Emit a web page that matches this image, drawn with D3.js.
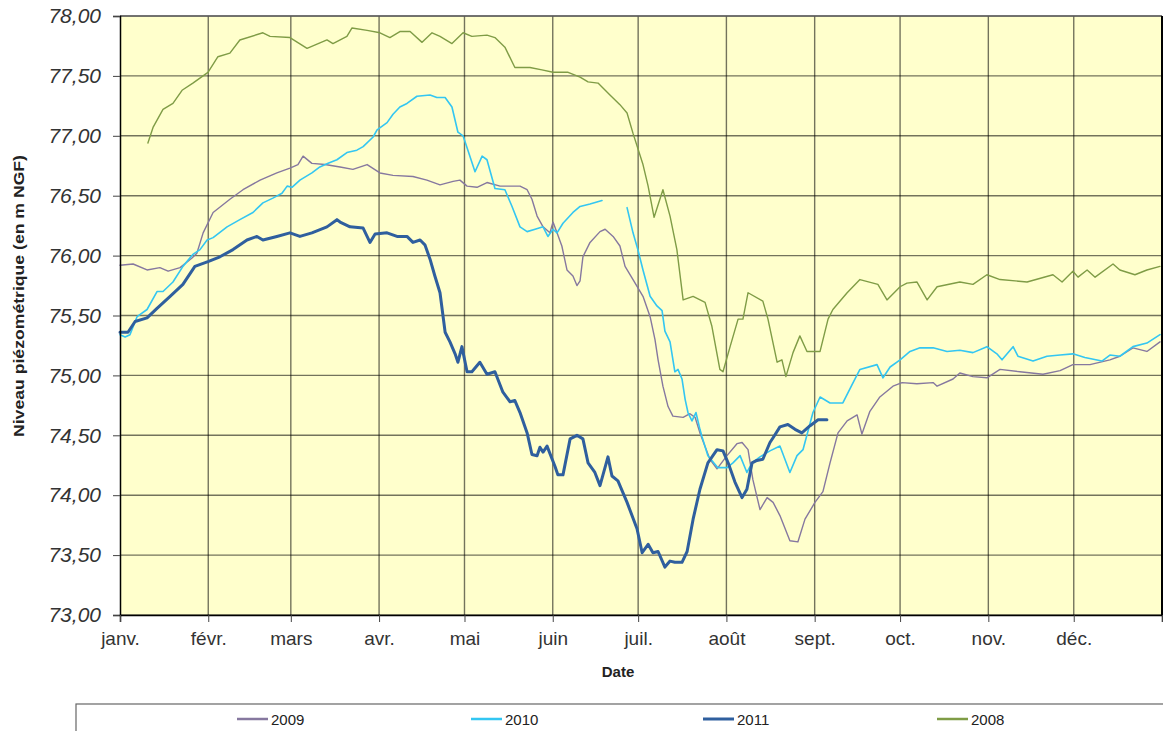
<!DOCTYPE html>
<html>
<head>
<meta charset="utf-8">
<script src="https://cdn.jsdelivr.net/npm/d3@7"></script>
<style>
  body { margin:0; background:#fff; }
  svg { font-family: Arial, "Liberation Sans", sans-serif; }
</style>
</head>
<body>
<div id="chart"></div>
<script>
// months shown on the x axis
var monthLabels = ["janv.","févr.","mars","avr.","mai","juin","juil.","août","sept.","oct.","nov.","déc."];
var yTicks = [73,73.5,74,74.5,75,75.5,76,76.5,77,77.5,78];

// day of year (from 1 jan) and level (m NGF)
var days2009 = [0,4.6,9.5,14,16.9,21.1,25.3,27,29.2,32.7,38.6,43.2,49.2,55.1,59.7,62.5,64.3,67.4,72,77.3,81.8,86.8,91.3,95.9,102.9,107.8,112.4,117,119.4,121.9,125.4,128.9,133.5,140.5,143,144.7,146.5,148.6,151,152.1,153.5,155.2,157,159.1,160.5,161.6,162.6,165.1,168.6,170.4,173.2,175.6,177.4,180.2,183.7,186.2,187.9,189,190.7,192.5,194.2,197.8,200.2,202,203.7,207.2,209.7,213.2,216.7,218.5,220.6,222.3,224.8,227.3,229.4,231.8,235.3,238.1,240.6,244.1,246.9,249.4,252.2,255.4,258.9,260.6,263.4,266.9,271.5,274.7,279.9,285.6,287,292.6,295,299.6,304.5,309.1,316.1,324.2,330.2,334.7,340.7,347.7,351.2,355.8,360.7,365.3];
var vals2009 = [75.92,75.93,75.88,75.90,75.87,75.90,75.98,76.02,76.19,76.36,76.47,76.55,76.63,76.69,76.73,76.76,76.83,76.77,76.76,76.74,76.72,76.76,76.69,76.67,76.66,76.63,76.59,76.62,76.63,76.58,76.57,76.61,76.58,76.58,76.55,76.47,76.33,76.24,76.19,76.28,76.19,76.08,75.88,75.83,75.75,75.79,75.99,76.11,76.20,76.22,76.16,76.08,75.91,75.80,75.66,75.49,75.30,75.13,74.91,74.74,74.66,74.65,74.68,74.65,74.52,74.30,74.22,74.33,74.43,74.44,74.38,74.13,73.88,73.98,73.94,73.83,73.62,73.61,73.80,73.94,74.03,74.27,74.52,74.62,74.67,74.51,74.70,74.82,74.91,74.94,74.93,74.94,74.91,74.97,75.02,74.99,74.98,75.05,75.03,75.01,75.04,75.09,75.09,75.13,75.16,75.23,75.20,75.28];

// null = no measure (gap in june)
var days2010 = [0,1.8,3.5,6,9.5,13,15.1,18.6,22.1,25.6,28.1,30.6,32.7,37.6,42.1,46.7,50.2,53.7,56.9,58.7,60.4,63.2,67.4,70.2,73.1,76.2,79.7,83.2,85.4,88.9,90.3,93.8,95.9,98.3,100.8,104.3,108.9,111.3,114.2,116.6,118.7,120.5,122.2,124.7,127.2,128.9,131.7,135.2,137.7,140.5,143,145.8,148.6,150.3,152.1,153.5,155.6,159.1,161.6,165.1,169.3,174,178.1,180.2,181.9,183.7,186.2,188.6,190.4,191.4,193.2,194.9,196,197.4,198.5,199.5,200.9,202.3,203.7,204.4,206.5,210,213.2,215.3,217.8,220.2,222,224.8,228.3,231.8,235.3,237.8,239.9,243.4,245.9,249.4,253.9,257.5,259.9,265.9,268,270.5,274,277.5,281,285.6,290.5,295,299.6,304.5,308,309.8,313.7,315.4,320.7,325.6,330.2,334.7,338.9,344.9,347.7,351.2,355.8,360.7,365.3];
var vals2010 = [75.34,75.32,75.34,75.49,75.55,75.70,75.70,75.78,75.91,76.01,76.05,76.13,76.15,76.24,76.30,76.36,76.44,76.48,76.52,76.58,76.57,76.63,76.69,76.74,76.77,76.80,76.86,76.88,76.91,76.99,77.05,77.11,77.18,77.24,77.27,77.33,77.34,77.32,77.32,77.24,77.03,77.00,76.88,76.70,76.83,76.80,76.56,76.55,76.41,76.24,76.20,76.22,76.24,76.16,76.22,76.19,76.27,76.36,76.41,76.43,76.46,null,76.40,76.19,76.05,75.88,75.66,75.58,75.54,75.37,75.28,75.03,75.05,74.97,74.80,74.69,74.62,74.69,74.55,74.49,74.33,74.23,74.23,74.27,74.33,74.19,74.27,74.32,74.37,74.41,74.19,74.33,74.38,74.69,74.82,74.77,74.77,74.94,75.05,75.09,74.98,75.07,75.13,75.20,75.23,75.23,75.20,75.21,75.19,75.24,75.18,75.13,75.24,75.16,75.12,75.16,75.17,75.18,75.15,75.12,75.17,75.16,75.24,75.27,75.34];

var days2011 = [0,2.8,5.3,9.5,13,17.6,22.1,26.3,30.9,35.1,39.7,44.6,48.1,50.2,55.1,59.7,63.2,67.4,72.7,76.2,77.3,80.8,85.4,87.8,89.6,93.8,97.3,100.8,102.9,105.4,107.1,108.9,110.6,112.4,114.2,115.9,117.7,118.7,120.1,121.9,123.6,126.4,128.9,131.7,134.5,137,138.7,140.5,143,144.7,146.5,147.5,148.6,150,152.8,153.8,155.6,158.1,160.5,162.6,164.4,166.8,168.6,171.4,172.8,174.9,178.1,181.6,183.4,185.5,187.2,189,191.4,193.2,194.9,197.4,199.2,201.3,203.7,206.5,209.7,211.8,213.6,216,218.5,220.2,222,223.7,225.8,228.3,229.4,231.8,234.6,237.1,239.5,242.4,245.2,248.3];
var vals2011 = [75.36,75.36,75.45,75.48,75.56,75.66,75.76,75.91,75.95,75.99,76.05,76.13,76.16,76.13,76.16,76.19,76.16,76.19,76.24,76.30,76.28,76.24,76.23,76.11,76.18,76.19,76.16,76.16,76.11,76.13,76.09,75.97,75.83,75.69,75.36,75.28,75.18,75.11,75.24,75.03,75.03,75.11,75.01,75.03,74.86,74.78,74.79,74.69,74.52,74.34,74.33,74.40,74.36,74.41,74.24,74.17,74.17,74.47,74.50,74.47,74.27,74.19,74.08,74.32,74.16,74.12,73.94,73.72,73.52,73.59,73.52,73.53,73.40,73.45,73.44,73.44,73.53,73.80,74.05,74.27,74.38,74.37,74.27,74.11,73.98,74.05,74.27,74.29,74.30,74.44,74.48,74.57,74.59,74.55,74.52,74.58,74.63,74.63];

var days2008 = [9.8,11.6,15.1,18.6,21.8,25.6,30.9,34.4,38.6,42.1,50.2,52.7,59.7,65.7,72.7,74.8,79.7,81.5,86.8,91.3,94.8,98.3,101.9,106.1,109.6,112.4,116.6,120.5,123.6,128.9,131.7,135.2,138.7,144,148.2,152.1,157.4,161.6,164.4,167.9,172.1,175.6,178.1,180.2,183.7,185.5,187.6,190.7,193.2,195.6,197.8,201.3,205.5,207.9,210.7,211.8,214.3,217.1,218.8,220.6,225.8,227.6,230.8,232.5,233.9,236.4,238.8,241.3,245.9,248.7,250.4,255.4,259.9,266.2,269.4,274,276.4,279.9,283.5,287,295,299.6,304.5,309.1,318.6,327.7,330.9,334.7,336.5,339.7,342.5,348.8,351.2,356.5,360.7,365.3];
var vals2008 = [76.94,77.07,77.22,77.27,77.38,77.44,77.53,77.66,77.69,77.80,77.86,77.83,77.82,77.73,77.80,77.77,77.83,77.90,77.88,77.86,77.82,77.87,77.87,77.78,77.86,77.83,77.77,77.86,77.83,77.84,77.82,77.74,77.57,77.57,77.55,77.53,77.53,77.49,77.45,77.44,77.34,77.26,77.19,77.02,76.76,76.58,76.32,76.55,76.33,76.05,75.63,75.66,75.61,75.41,75.05,75.03,75.24,75.47,75.47,75.69,75.62,75.47,75.11,75.13,74.99,75.19,75.33,75.20,75.20,75.47,75.55,75.69,75.80,75.76,75.63,75.74,75.77,75.78,75.63,75.74,75.78,75.76,75.84,75.80,75.78,75.84,75.78,75.87,75.82,75.88,75.82,75.93,75.88,75.84,75.88,75.91];

var seriesNames = ["2009","2010","2011","2008"];
var seriesColors = ["#86789f","#33c6f2","#2f5f9e","#7f9c46"];
var seriesWidths = [1.4,1.6,3,1.4];

var W = 1163, H = 731;
var pLeft = 120, pRight = 1162, pTop = 16, pBottom = 615;

var t0 = new Date(2008,0,1);
function toDate(d){ return new Date(t0.getTime() + d*86400000); }

var svg = d3.select("#chart").append("svg").attr("width",W).attr("height",H);

var x = d3.scaleTime().domain([t0, new Date(2009,0,1)]).range([pLeft,pRight]);
var y = d3.scaleLinear().domain([73,78]).range([pBottom,pTop]);

// plot area
svg.append("rect").attr("x",pLeft).attr("y",pTop).attr("width",pRight-pLeft).attr("height",pBottom-pTop)
  .attr("fill","#ffffcc");

var months = d3.timeMonth.range(t0, new Date(2009,0,1));

// grid
var grid = svg.append("g").attr("stroke","#000").attr("stroke-opacity",0.55).attr("stroke-width",1.4);
grid.selectAll("line.h").data(yTicks).enter().append("line")
  .attr("x1",pLeft).attr("x2",pRight).attr("y1",function(d){return y(d);}).attr("y2",function(d){return y(d);});
grid.selectAll("line.v").data(months.slice(1)).enter().append("line")
  .attr("y1",pTop).attr("y2",pBottom).attr("x1",function(d){return x(d);}).attr("x2",function(d){return x(d);});

// series
var allDays = [days2009, days2010, days2011, days2008];
var allVals = [vals2009, vals2010, vals2011, vals2008];

var line = d3.line()
  .defined(function(d){ return d.v !== null; })
  .x(function(d){ return x(toDate(d.d)); })
  .y(function(d){ return y(d.v); });

var drawOrder = [3,0,1,2];
drawOrder.forEach(function(i){
  var pts = allDays[i].map(function(d,k){ return {d:d, v:allVals[i][k]}; });
  svg.append("path").datum(pts)
    .attr("fill","none")
    .attr("stroke",seriesColors[i])
    .attr("stroke-width",seriesWidths[i])
    .attr("stroke-linejoin","round")
    .attr("stroke-linecap","round")
    .attr("d",line);
});

// frame
svg.append("line").attr("x1",pLeft).attr("x2",pRight).attr("y1",pTop).attr("y2",pTop)
  .attr("stroke","#666").attr("stroke-width",1.5);
svg.append("line").attr("x1",pRight).attr("x2",pRight).attr("y1",pTop).attr("y2",pBottom)
  .attr("stroke","#000").attr("stroke-width",2);

// axes
var yAxis = svg.append("g").attr("transform","translate("+pLeft+",0)")
  .call(d3.axisLeft(y).tickValues(yTicks).tickSize(7).tickPadding(12)
    .tickFormat(function(d){ return d3.format(".2f")(d).replace(".",","); }));
yAxis.selectAll("text").attr("font-size",21).attr("font-style","italic").attr("fill","#333");

var xAxis = svg.append("g").attr("transform","translate(0,"+pBottom+")")
  .call(d3.axisBottom(x).tickValues(months.concat([new Date(2009,0,1)])).tickSize(7).tickPadding(10)
    .tickFormat(function(d,i){ return monthLabels[i] || ""; }));
xAxis.selectAll("text").attr("font-size",19).attr("fill","#333");
svg.selectAll(".domain").attr("stroke","#000").attr("stroke-width",1.5);
svg.selectAll(".tick line").attr("stroke","#444");

svg.append("text").attr("x",618).attr("y",677).attr("text-anchor","middle")
  .attr("font-size",15).attr("font-weight","bold").attr("fill","#222").text("Date");

svg.append("text").attr("transform","translate(24,296) rotate(-90)").attr("text-anchor","middle")
  .attr("font-size",15).attr("font-weight","bold").attr("fill","#222")
  .attr("textLength",282).attr("lengthAdjust","spacingAndGlyphs")
  .text("Niveau piézométrique (en m NGF)");

// legend
svg.append("rect").attr("x",76).attr("y",704).attr("width",1120).attr("height",60)
  .attr("fill","#fff").attr("stroke","#666").attr("stroke-width",1.2);
var legX = [237,471,703,937];
seriesNames.forEach(function(n,i){
  svg.append("line").attr("x1",legX[i]).attr("x2",legX[i]+31).attr("y1",719).attr("y2",719)
    .attr("stroke",seriesColors[i]).attr("stroke-width", i==2 ? 3 : 2.5);
  svg.append("text").attr("x",legX[i]+34).attr("y",724.5).attr("font-size",15).attr("fill","#222").text(n);
});
</script>
</body>
</html>
